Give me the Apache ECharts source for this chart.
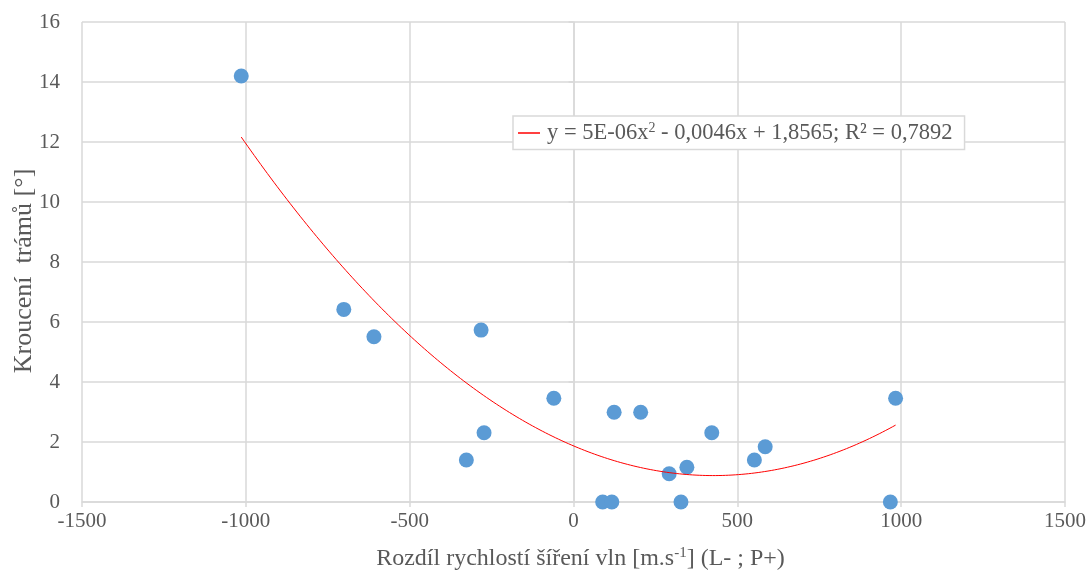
<!DOCTYPE html>
<html>
<head>
<meta charset="utf-8">
<script src="https://cdn.jsdelivr.net/npm/echarts@6/dist/echarts.min.js"></script>
<style>
html,body{margin:0;padding:0;background:#fff;}
#main{width:1092px;height:573px;}
</style>
</head>
<body>
<div id="main"></div>
<script>
// Data
var speedDiff = [-1014, -701, -609, -282, -327, -273, -60, 89, 117, 124, 205, 292, 328, 346, 422, 552, 585, 967, 983];
var twist     = [14.2, 6.42, 5.51, 5.73, 1.4, 2.31, 3.46, 0, 0, 2.99, 2.99, 0.94, 0, 1.16, 2.31, 1.4, 1.84, 0, 3.46];
var xTicks = [-1500, -1000, -500, 0, 500, 1000, 1500];
var yTicks = [0, 2, 4, 6, 8, 10, 12, 14, 16];
var trendLabel = 'y = 5E-06x{sup|2} - 0,0046x + 1,8565; R² = 0,7892';

// least-squares quadratic trendline from the data (as the spreadsheet does)
function quadFit(xs, ys) {
  var n = xs.length, S = [0,0,0,0,0], T = [0,0,0];
  for (var i = 0; i < n; i++) {
    var p = 1;
    for (var k = 0; k < 5; k++) { S[k] += p; if (k < 3) T[k] += p * ys[i]; p *= xs[i]; }
  }
  var A = [[S[0],S[1],S[2],T[0]],[S[1],S[2],S[3],T[1]],[S[2],S[3],S[4],T[2]]];
  for (var c = 0; c < 3; c++) {
    for (var r = c + 1; r < 3; r++) {
      var f = A[r][c] / A[c][c];
      for (var j = c; j < 4; j++) A[r][j] -= f * A[c][j];
    }
  }
  var coef = [0,0,0];
  for (var r2 = 2; r2 >= 0; r2--) {
    var s = A[r2][3];
    for (var j2 = r2 + 1; j2 < 3; j2++) s -= A[r2][j2] * coef[j2];
    coef[r2] = s / A[r2][r2];
  }
  return coef; // c0 + c1 x + c2 x^2
}
var coef = quadFit(speedDiff, twist);
var xmin = Math.min.apply(null, speedDiff), xmax = Math.max.apply(null, speedDiff);
var trend = [];
for (var i = 0; i <= 200; i++) {
  var x = xmin + (xmax - xmin) * i / 200;
  trend.push([x, coef[0] + coef[1] * x + coef[2] * x * x]);
}
var points = speedDiff.map(function (v, i) { return [v, twist[i]]; });

var font = '"Liberation Serif", "Times New Roman", serif';
var txt = '#595959';
var grid = '#d9d9d9';

var chart = echarts.init(document.getElementById('main'));
chart.setOption({
  animation: false,
  textStyle: { fontFamily: font },
  grid: { left: 82, right: 27, top: 22, bottom: 71, containLabel: false, outerBoundsMode: 'none' },
  legend: {
    data: [{ name: 'trend', icon: 'rect', itemStyle: { color: '#ff0000' } }],
    left: 513, top: 116,
    padding: [5, 12, 5, 5],
    borderColor: grid, borderWidth: 1.5,
    backgroundColor: '#fff',
    itemWidth: 22, itemHeight: 1.5, itemGap: 0,
    formatter: function () { return trendLabel; },
    textStyle: {
      fontFamily: font, fontSize: 22.5, color: txt, padding: [0, 0, 0, 2],
      rich: { sup: { fontFamily: font, fontSize: 14, color: txt, padding: [0,0,10,0] } }
    }
  },
  xAxis: {
    type: 'value', min: -1500, max: 1500, interval: 500,
    name: 'Rozdíl rychlostí šíření vln [m.s{sup|-1}] (L- ; P+)',
    nameLocation: 'middle', nameGap: 44,
    nameTextStyle: {
      fontFamily: font, fontSize: 24, color: txt, padding: [0, 0, 0, 14],
      rich: { sup: { fontFamily: font, fontSize: 15, color: txt, padding: [0,0,10,0] } }
    },
    axisLine: { show: true, onZero: false, lineStyle: { color: grid, width: 1.5 } },
    axisTick: { show: true, length: 5, lineStyle: { color: grid, width: 1.5 } },
    axisLabel: { fontFamily: font, fontSize: 21, color: txt, margin: 9,
      formatter: function (v) { return xTicks.indexOf(v) >= 0 ? String(v) : ''; } },
    splitLine: { show: true, lineStyle: { color: grid, width: 1.5 } }
  },
  yAxis: {
    type: 'value', min: 0, max: 16, interval: 2,
    name: 'Kroucení  trámů [°]',
    nameLocation: 'middle', nameGap: 45, nameMoveOverlap: false,
    nameTextStyle: { fontFamily: font, fontSize: 26, color: txt, padding: [0, 18, 0, 0] },
    axisLine: { show: true, lineStyle: { color: grid, width: 1.5 } },
    axisTick: { show: true, length: 5, lineStyle: { color: grid, width: 1.5 } },
    axisLabel: { fontFamily: font, fontSize: 21, color: txt, margin: 22,
      formatter: function (v) { return yTicks.indexOf(v) >= 0 ? String(v) : ''; } },
    splitLine: { show: true, lineStyle: { color: grid, width: 1.5 } }
  },
  series: [
    {
      name: 'data', type: 'scatter', data: points,
      symbolSize: 15, itemStyle: { color: '#5b9bd5', opacity: 1 }, z: 3
    },
    {
      name: 'trend', type: 'line', data: trend, showSymbol: false, smooth: false,
      lineStyle: { color: '#ff0000', width: 1 }, itemStyle: { color: '#ff0000' }, z: 4
    }
  ]
});
</script>
</body>
</html>
